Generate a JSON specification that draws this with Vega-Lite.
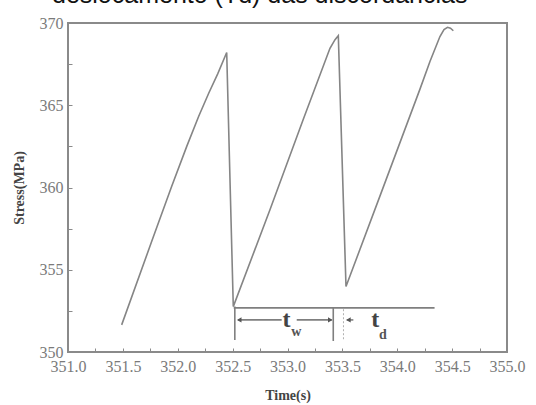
{
  "$schema": "https://vega.github.io/schema/vega-lite/v6.json",
  "autosize": {"type": "none"},
  "padding": {"left": 68, "top": 23, "right": 29, "bottom": 53},
  "width": 439,
  "height": 329,
  "background": "white",
  "title": {
    "text": "deslocamento (Td) das discordancias",
    "font": "Liberation Sans",
    "fontSize": 25,
    "fontWeight": "normal",
    "color": "#111111",
    "anchor": "start",
    "frame": "group",
    "dx": -16,
    "baseline": "alphabetic",
    "offset": -13
  },
  "config": {
    "view": {"stroke": "#8a8a8a", "strokeWidth": 2},
    "axis": {
      "domain": false,
      "grid": false,
      "tickColor": "#8a8a8a",
      "tickSize": -4,
      "tickWidth": 1,
      "labelFont": "Liberation Serif",
      "labelFontSize": 16,
      "labelColor": "#7a7a7a",
      "titleFont": "Liberation Serif",
      "titleFontWeight": "bold",
      "titleFontSize": 14,
      "titleColor": "#444444",
      "labelOverlap": false,
      "labelFlush": false,
      "labelBound": false
    }
  },
  "datasets": {
    "curve": [
      {"o": 1, "t": 351.489, "s": 351.65},
      {"o": 2, "t": 351.763, "s": 356.73},
      {"o": 3, "t": 351.945, "s": 360.07},
      {"o": 4, "t": 352.082, "s": 362.5},
      {"o": 5, "t": 352.191, "s": 364.33},
      {"o": 6, "t": 352.282, "s": 365.73},
      {"o": 7, "t": 352.364, "s": 366.91},
      {"o": 8, "t": 352.446, "s": 368.21},
      {"o": 9, "t": 352.506, "s": 352.76},
      {"o": 10, "t": 352.841, "s": 358.66},
      {"o": 11, "t": 353.144, "s": 364.15},
      {"o": 12, "t": 353.387, "s": 368.46},
      {"o": 13, "t": 353.433, "s": 368.99},
      {"o": 14, "t": 353.463, "s": 369.23},
      {"o": 15, "t": 353.533, "s": 353.98},
      {"o": 16, "t": 353.843, "s": 359.49},
      {"o": 17, "t": 354.207, "s": 365.98},
      {"o": 18, "t": 354.298, "s": 367.66},
      {"o": 19, "t": 354.389, "s": 369.18},
      {"o": 20, "t": 354.426, "s": 369.6},
      {"o": 21, "t": 354.458, "s": 369.74},
      {"o": 22, "t": 354.485, "s": 369.68},
      {"o": 23, "t": 354.511, "s": 369.53}
    ],
    "rules": [
      {"t": 352.51, "t2": 354.34, "s": 352.68, "s2": 352.68},
      {"t": 352.52, "t2": 352.52, "s": 352.76, "s2": 350.73},
      {"t": 353.417, "t2": 353.417, "s": 352.68, "s2": 350.67},
      {"t": 352.549, "t2": 352.947, "s": 351.95, "s2": 351.95},
      {"t": 353.084, "t2": 353.403, "s": 351.95, "s2": 351.95},
      {"t": 353.54, "t2": 353.6, "s": 351.95, "s2": 351.95}
    ],
    "dashed": [
      {"t": 353.51, "t2": 353.51, "s": 352.6, "s2": 350.75}
    ],
    "heads": [
      {"t": 352.56, "s": 351.95, "dir": "left"},
      {"t": 353.39, "s": 351.95, "dir": "right"},
      {"t": 353.555, "s": 351.95, "dir": "left"}
    ],
    "bigtext": [
      {"t": 352.99, "s": 351.95, "label": "t"},
      {"t": 353.8, "s": 351.95, "label": "t"}
    ],
    "subtext": [
      {"t": 353.08, "s": 351.24, "label": "w"},
      {"t": 353.87, "s": 351.04, "label": "d"}
    ]
  },
  "encoding": {
    "x": {
      "field": "t",
      "type": "quantitative",
      "scale": {"domain": [351, 355], "nice": false, "zero": false},
      "axis": {
        "title": "Time(s)",
        "titlePadding": 14,
        "values": [351, 351.25, 351.5, 351.75, 352, 352.25, 352.5, 352.75, 353, 353.25, 353.5, 353.75, 354, 354.25, 354.5, 354.75, 355],
        "labelExpr": "datum.value % 0.5 === 0 ? format(datum.value, '.1f') : ''",
        "labelPadding": 10
      }
    },
    "y": {
      "field": "s",
      "type": "quantitative",
      "scale": {"domain": [350, 370], "nice": false, "zero": false},
      "axis": {
        "title": "Stress(MPa)",
        "titlePadding": 13,
        "values": [350, 352.5, 355, 357.5, 360, 362.5, 365, 367.5, 370],
        "labelExpr": "datum.value % 5 === 0 ? format(datum.value, 'd') : ''",
        "labelPadding": 9
      }
    }
  },
  "layer": [
    {
      "data": {"name": "curve"},
      "mark": {"type": "line", "color": "#858585", "strokeWidth": 1.6},
      "encoding": {"order": {"field": "o", "type": "quantitative"}}
    },
    {
      "data": {"name": "rules"},
      "mark": {"type": "rule", "color": "#7f7f7f", "strokeWidth": 1.6},
      "encoding": {
        "x2": {"field": "t2"},
        "y2": {"field": "s2"}
      }
    },
    {
      "data": {"name": "dashed"},
      "mark": {"type": "rule", "color": "#b0b0b0", "strokeWidth": 1, "strokeDash": [2, 2]},
      "encoding": {
        "x2": {"field": "t2"},
        "y2": {"field": "s2"}
      }
    },
    {
      "data": {"name": "heads"},
      "mark": {"type": "point", "filled": true, "color": "#555555", "size": 28, "opacity": 1},
      "encoding": {
        "shape": {
          "field": "dir",
          "type": "nominal",
          "scale": {"domain": ["left", "right"], "range": ["triangle-left", "triangle-right"]},
          "legend": null
        }
      }
    },
    {
      "data": {"name": "bigtext"},
      "mark": {"type": "text", "font": "Liberation Serif", "fontWeight": "bold", "fontSize": 24, "color": "#444444", "baseline": "middle"},
      "encoding": {"text": {"field": "label"}}
    },
    {
      "data": {"name": "subtext"},
      "mark": {"type": "text", "font": "Liberation Serif", "fontWeight": "bold", "fontSize": 14, "color": "#555555", "baseline": "middle"},
      "encoding": {"text": {"field": "label"}}
    }
  ]
}
